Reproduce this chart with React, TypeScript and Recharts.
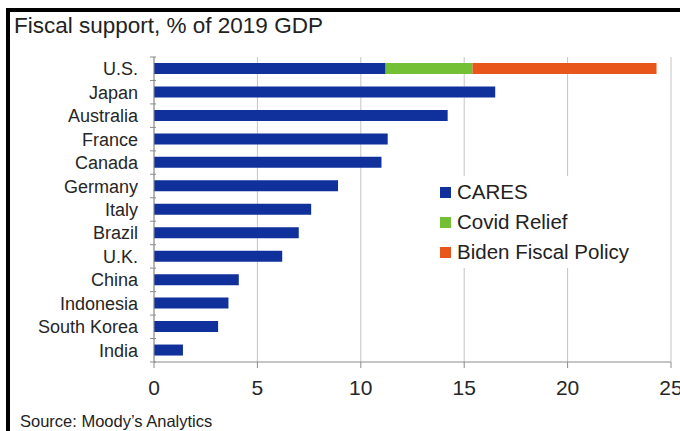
import { BarChart, Bar, XAxis, YAxis, CartesianGrid } from 'recharts';

const countries = ['U.S.', 'Japan', 'Australia', 'France', 'Canada', 'Germany', 'Italy', 'Brazil', 'U.K.', 'China', 'Indonesia', 'South Korea', 'India'];
const cares = [11.2, 16.5, 14.2, 11.3, 11.0, 8.9, 7.6, 7.0, 6.2, 4.1, 3.6, 3.1, 1.4];
const covidRelief = [4.2, 0, 0, 0, 0, 0, 0, 0, 0, 0, 0, 0, 0];
const bidenPolicy = [8.9, 0, 0, 0, 0, 0, 0, 0, 0, 0, 0, 0, 0];
const xTicks = [0, 5, 10, 15, 20, 25];

const series = [
  { key: 'cares', name: 'CARES', color: '#10309c' },
  { key: 'covid', name: 'Covid Relief', color: '#74c035' },
  { key: 'biden', name: 'Biden Fiscal Policy', color: '#e8561c' },
];

const data = countries.map((name, i) => ({
  name,
  cares: cares[i],
  covid: covidRelief[i],
  biden: bidenPolicy[i],
}));

const font = '"Liberation Sans", Arial, sans-serif';
const W = 680;
const H = 431;
const margin = { top: 57, right: 9, bottom: 39, left: 14 };
const yAxisWidth = 140;
const xAxisHeight = 30;
const band = (H - margin.top - margin.bottom - xAxisHeight) / countries.length;

function CountryTick(props: any) {
  const { x, y, payload, index } = props;
  const axisX = x + 16;
  return (
    <g>
      <line x1={axisX - 4} x2={axisX + 2} y1={y - band / 2} y2={y - band / 2} stroke="#8c8c8c" />
      {index === countries.length - 1 && (
        <line x1={axisX - 4} x2={axisX + 2} y1={y + band / 2} y2={y + band / 2} stroke="#8c8c8c" />
      )}
      <text x={x} y={y} dy="0.36em" textAnchor="end" fontSize={18} fill="#262626" fontFamily={font}>
        {payload.value}
      </text>
    </g>
  );
}

function LegendBox() {
  return (
    <div style={{ position: 'absolute', left: 432, top: 176, background: '#fff', width: 210, height: 92, fontFamily: font, fontSize: 20.5, color: '#222', paddingTop: 1, boxSizing: 'border-box' }}>
      {series.map((s) => (
        <div key={s.key} style={{ display: 'flex', alignItems: 'center', height: 30, paddingLeft: 8 }}>
          <span style={{ width: 11, height: 11, background: s.color, display: 'inline-block', marginRight: 6 }} />
          <span>{s.name}</span>
        </div>
      ))}
    </div>
  );
}

export default function App() {
  return (
    <div style={{ position: 'absolute', left: 0, top: 0, width: W, height: H, overflow: 'hidden', background: '#fff' }}>
      <div style={{ position: 'absolute', left: 6, top: 8, width: W, height: H, borderLeft: '4px solid #000', borderTop: '4px solid #000' }} />
      <div style={{ position: 'absolute', left: 14, top: 14, fontFamily: font, fontSize: 22.5, color: '#222', lineHeight: '24px', whiteSpace: 'nowrap' }}>
        Fiscal support, % of 2019 GDP
      </div>
      <div style={{ position: 'absolute', left: 20, top: 412, fontFamily: font, fontSize: 16.5, color: '#222', lineHeight: '18px', whiteSpace: 'nowrap' }}>
        Source: Moody’s Analytics
      </div>
      <div style={{ position: 'absolute', left: 0, top: 0 }}>
        <BarChart width={W} height={H} data={data} layout="vertical" margin={margin} barSize={11}>
          <CartesianGrid horizontal={false} stroke="#c4c4c4" />
          <XAxis
            type="number"
            domain={[0, 25]}
            ticks={xTicks}
            height={xAxisHeight}
            axisLine={{ stroke: '#8c8c8c' }}
            tickLine={{ stroke: '#8c8c8c' }}
            tickSize={6}
            tickMargin={12}
            tick={{ fontSize: 21, fill: '#262626', fontFamily: font }}
            interval={0}
          />
          <XAxis xAxisId="top" orientation="top" type="number" domain={[0, 25]} height={0} tick={false} tickLine={false} axisLine={{ stroke: '#c4c4c4' }} />
          <YAxis
            type="category"
            dataKey="name"
            width={yAxisWidth}
            axisLine={{ stroke: '#8c8c8c' }}
            tickLine={false}
            tickSize={6}
            tickMargin={10}
            tick={<CountryTick />}
            interval={0}
          />
          {series.map((s) => (
            <Bar key={s.key} dataKey={s.key} name={s.name} stackId="a" fill={s.color} isAnimationActive={false} />
          ))}
        </BarChart>
      </div>
      <LegendBox />
    </div>
  );
}
